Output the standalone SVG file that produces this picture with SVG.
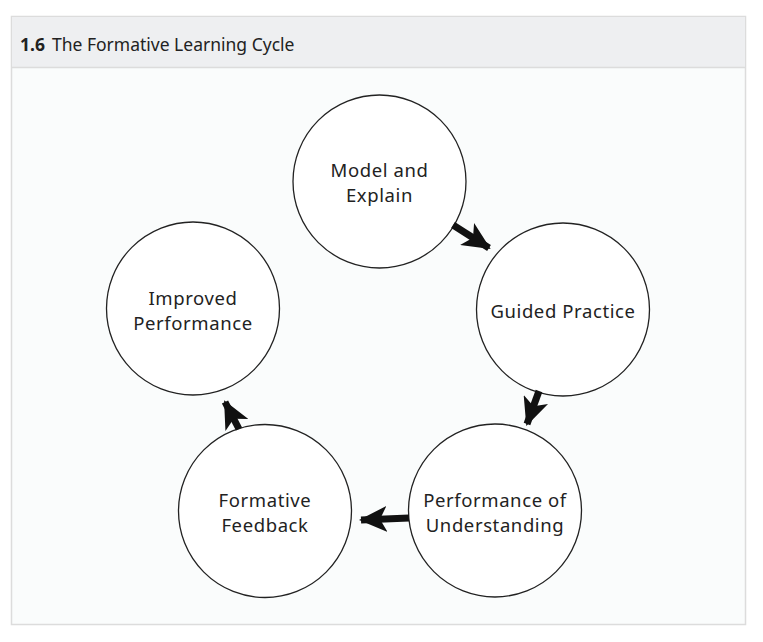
<svg xmlns="http://www.w3.org/2000/svg" width="763" height="642" viewBox="0 0 763 642">
<style>
.node circle{fill:#fff;stroke:#222;stroke-width:1.3}
.node text{font-family:"Noto Sans","Open Sans",sans-serif;font-size:18.5px;letter-spacing:0.6px;fill:#222;text-anchor:middle}
.conn line{stroke:#111;stroke-width:7}
</style>
<defs>
<marker id="ah" markerUnits="userSpaceOnUse" markerWidth="28" markerHeight="26" viewBox="0 0 28 26" refX="26" refY="13" orient="auto">
<path d="M0,0 L28,13 L0,26 L7,13 z" fill="#111"/>
</marker>
</defs>
<rect x="0" y="0" width="763" height="642" fill="#fff"/>
<rect x="11.5" y="16.5" width="734" height="608" fill="#fafcfc" stroke="#dcdcdc" stroke-width="1.5"/>
<rect x="12" y="17" width="733" height="50" fill="#eeeff1"/>
<line x1="12" y1="67.5" x2="745" y2="67.5" stroke="#dcdcdc" stroke-width="1.5"/>
<text x="20" y="51" font-family="'Noto Sans','Open Sans',sans-serif" font-size="17.5" fill="#222"><tspan font-weight="bold">1.6</tspan><tspan dx="7">The Formative Learning Cycle</tspan></text>
<g id="n1" class="node"><circle cx="379.5" cy="181.5" r="86.5"/><text x="379.5" y="177">Model and</text><text x="379.5" y="202">Explain</text></g>
<g id="n2" class="node"><circle cx="563" cy="309.5" r="86.5"/><text x="563" y="318">Guided Practice</text></g>
<g id="n3" class="node"><circle cx="495" cy="510.5" r="86.5"/><text x="495" y="507">Performance of</text><text x="495" y="532">Understanding</text></g>
<g id="n4" class="node"><circle cx="265" cy="511" r="86.5"/><text x="265" y="507">Formative</text><text x="265" y="532">Feedback</text></g>
<g id="n5" class="node"><circle cx="193" cy="308.5" r="86.5"/><text x="193" y="305">Improved</text><text x="193" y="330">Performance</text></g>
<g id="connectors" class="conn">
<line x1="453" y1="225" x2="489" y2="248" marker-end="url(#ah)"/>
<line x1="539" y1="391" x2="527" y2="424" marker-end="url(#ah)"/>
<line x1="409" y1="518" x2="361" y2="520" marker-end="url(#ah)"/>
<line x1="239" y1="429" x2="225" y2="402" marker-end="url(#ah)"/>
</g>
</svg>
